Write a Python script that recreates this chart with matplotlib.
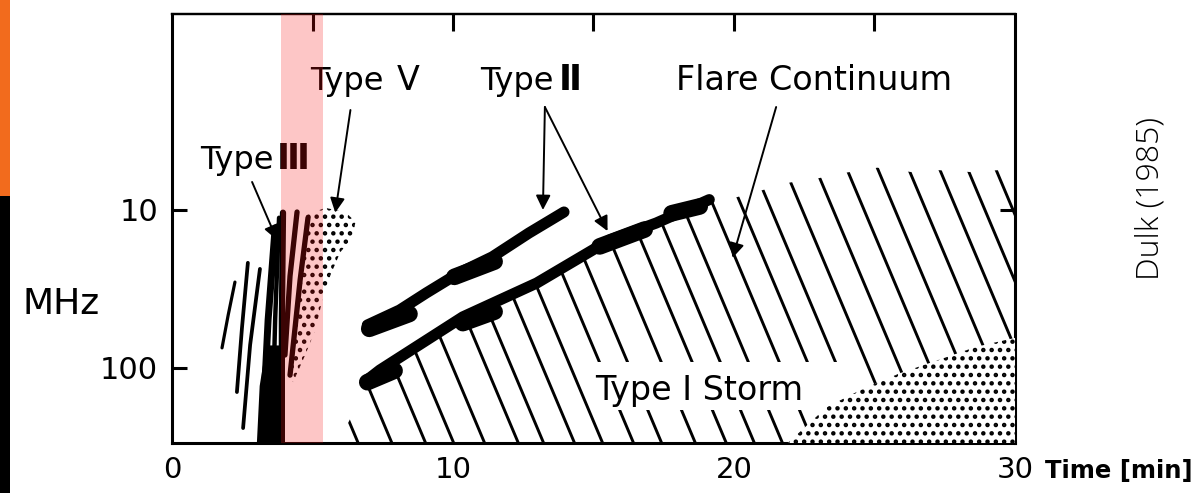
import numpy as np
import matplotlib
matplotlib.use("Agg")
import matplotlib.pyplot as plt
from matplotlib.patches import Polygon, Rectangle
from matplotlib.ticker import NullLocator, FixedLocator

plt.rcParams['font.family'] = ['DejaVu Sans']
plt.rcParams['hatch.linewidth'] = 2.0

# ---------------- data (time in min, frequency in MHz) ----------------
x_ticks = [0, 10, 20, 30]
x_ticklabels = ['0', '10', '20', '30']
top_ticks = [5, 10, 15, 20, 25]
y_ticks = [10, 100]
y_ticklabels = ['10', '100']

# Type III bursts: top, middle and bottom point of each drifting burst
t3_t_top = [2.24, 2.70, 3.13, 3.67, 3.81, 3.95, 4.45, 4.84]
t3_f_top = [28.6, 21.6, 23.6, 13.0, 11.2, 10.4, 10.3, 11.2]
t3_t_mid = [2.00, 2.49, 2.78, 3.42, 3.67, 3.91, 4.20, 4.56]
t3_f_mid = [46.2, 55.8, 71.5, 49.7, 49.7, 49.7, 26.2, 27.7]
t3_t_bot = [1.78, 2.31, 2.53, 3.20, 3.56, 3.91, 4.02, 4.20]
t3_f_bot = [74.6, 142, 240, 300, 300, 300, 82.8, 111]
t3_block_t = [3.35, 3.88, 3.88, 3.02, 3.12]
t3_block_f = [72, 72, 300, 300, 130]

# Type V stippled region
t5_t = [4.74, 5.46, 6.17, 6.53, 6.42, 5.99, 5.64, 5.35, 5.10, 4.74, 4.31, 4.14, 4.39, 4.56, 4.71]
t5_f = [10.8, 9.7, 10.3, 11.9, 15.0, 18.5, 25.8, 37.2, 57.4, 82.8, 123, 106, 57.4, 32, 17.9]

# Type II lanes (upper = harmonic lane, lower = fundamental lane)
t2u_t = [6.95, 8.10, 9.05, 10.22, 11.40, 12.70, 13.95]
t2u_f = [53.5, 43.0, 33.5, 25.0, 19.8, 14.0, 10.3]
t2l_t = [6.92, 7.40, 10.35, 12.98, 15.57, 17.23, 19.12]
t2l_f = [120, 103, 47.5, 29.0, 15.5, 12.1, 8.6]
# thicker clumps along the lanes
blob_t0 = [7.02, 10.05, 6.95, 10.35, 15.22, 17.78]
blob_f0 = [56.5, 26.5, 123, 52.0, 17.0, 10.5]
blob_t1 = [8.45, 11.48, 7.92, 11.48, 16.82, 18.78]
blob_f1 = [45.5, 21.2, 104, 44.0, 13.3, 9.5]

# Flare continuum region (outline, closed along the bottom)
cont_t = [5.9, 6.4, 6.95, 7.35, 10.35, 12.95, 15.55, 17.25, 19.12, 20.1, 21.0, 22.0,
          23.0, 24.0, 25.1, 26.3, 27.3, 28.4, 29.4, 30.0, 30.0]
cont_f = [300, 200, 130, 106, 49, 30, 16, 12.5, 8.9, 8.3, 7.5, 6.7,
          6.3, 5.8, 5.4, 5.75, 5.6, 5.75, 5.6, 5.6, 300]
# hatch lines: time at which each line crosses 100 MHz
hatch_t100 = [5.5, 6.7, 7.9, 8.9, 10.0, 11.2, 12.1, 13.2, 14.2, 15.3, 16.3, 17.5, 18.6,
              19.6, 20.6, 21.7, 22.7, 23.7, 24.8, 25.9, 27.0, 28.1, 29.2, 30.3, 31.3, 32.3]
hatch_slope = 2.37   # min per decade of frequency

# Type I storm stippled region
storm_t = [21.9, 23.3, 24.5, 25.9, 27.6, 28.6, 30.0, 30.0]
storm_f = [300, 177, 138, 108, 85, 73.6, 64.5, 300]

# pink highlighted interval
band_t = [3.88, 5.37]

# ---------------- figure ----------------
fig = plt.figure(figsize=(11.98, 4.93), dpi=100)
ax = fig.add_axes([172/1198, 50/493, 843/1198, 429/493])
ax.set_yscale('log')
ax.set_xlim(0, 30)
ax.set_ylim(298.4, 0.575)

K = 'black'
# Type III bursts
t3_w = [2.3, 2.7, 2.7, 5.0, 3.2, 4.5, 3.8, 3.8]
for i in range(len(t3_t_top)):
    ax.plot([t3_t_top[i], t3_t_mid[i], t3_t_bot[i]],
            [t3_f_top[i], t3_f_mid[i], t3_f_bot[i]],
            color=K, lw=t3_w[i], solid_capstyle='round', solid_joinstyle='round', zorder=5)
ax.add_patch(Polygon(np.column_stack([t3_block_t, t3_block_f]), closed=True,
                     facecolor=K, edgecolor='none', zorder=5))

# Type V stipple
ax.add_patch(Polygon(np.column_stack([t5_t, t5_f]), closed=True, facecolor='none',
                     edgecolor=K, lw=0, hatch='..', zorder=4))

# Flare continuum hatch lines
cont_poly = Polygon(np.column_stack([cont_t, cont_f]), closed=True,
                    transform=ax.transData, facecolor='none', edgecolor='none')
ax.add_patch(cont_poly)
lf = np.log10(np.array([2.0, 330.0]))
for t100 in hatch_t100:
    tt = t100 + hatch_slope * (lf - 2)
    ln, = ax.plot(tt, 10**lf, color=K, lw=2.1, solid_capstyle='butt', zorder=2)
    ln.set_clip_path(cont_poly)

# gap behind the Type I Storm label
ax.fill_between([15.1, 24.6], 91, 184, color='white', lw=0, zorder=3)

# Type I storm stipple
ax.add_patch(Polygon(np.column_stack([storm_t, storm_f]), closed=True,
                     facecolor='white', edgecolor=K, lw=0, hatch='..', zorder=4))

# Type II lanes
ax.plot(t2u_t, t2u_f, color=K, lw=8, solid_capstyle='round', zorder=6)
ax.plot(t2l_t, t2l_f, color=K, lw=8, solid_capstyle='round', zorder=6)
for a, b, c, d in zip(blob_t0, blob_f0, blob_t1, blob_f1):
    ax.plot([a, c], [b, d], color=K, lw=12, solid_capstyle='round', zorder=6)

# arrows
ap = dict(arrowstyle='-|>', color=K, lw=1.4, mutation_scale=22, shrinkA=0, shrinkB=0)
ax.annotate('', xy=(3.74, 15.5), xytext=(2.85, 6.65), arrowprops=ap, zorder=7)
ax.annotate('', xy=(5.81, 10.4), xytext=(6.35, 2.33), arrowprops=ap, zorder=7)
ax.annotate('', xy=(13.2, 10.0), xytext=(13.27, 2.23), arrowprops=ap, zorder=7)
ax.annotate('', xy=(15.5, 13.6), xytext=(13.27, 2.23), arrowprops=ap, zorder=7)
ax.annotate('', xy=(19.95, 20.1), xytext=(21.5, 2.23), arrowprops=ap, zorder=7)

# labels (word and Roman numeral)
lab = dict(ha='center', va='baseline', color=K, zorder=8)
ax.text(2.31, 5.5, 'Type', fontsize=23, **lab)
ax.text(4.33, 5.5, '\u2162', fontsize=25, fontweight='bold', **lab)
ax.text(6.23, 1.74, 'Type', fontsize=23, **lab)
ax.text(8.40, 1.74, '\u2164', fontsize=24, **lab)
ax.text(12.28, 1.74, 'Type', fontsize=23, **lab)
ax.text(14.16, 1.74, '\u2161', fontsize=25, fontweight='bold', **lab)
ax.text(22.86, 1.74, 'Flare Continuum', fontsize=24, **lab)
ax.text(18.75, 160, 'Type \u2160 Storm', fontsize=24, **lab)

# pink highlight band on top of everything
ax.axvspan(band_t[0], band_t[1], color=(0.97, 0.08, 0.08), alpha=0.24, lw=0, zorder=20)

# axes styling
for s in ['left', 'bottom', 'right']:
    ax.spines[s].set_linewidth(2.2)
ax.spines['top'].set_linewidth(1.6)
ax.yaxis.set_major_locator(FixedLocator(y_ticks))
ax.yaxis.set_minor_locator(NullLocator())
ax.set_yticklabels(y_ticklabels)
ax.set_xticks(x_ticks)
ax.set_xticklabels(x_ticklabels)
ax.tick_params(axis='y', which='major', direction='in', length=11, width=2.2,
               labelsize=22, pad=10, right=True)
ax.tick_params(axis='y', which='minor', length=0)
ax.tick_params(axis='x', length=0, labelsize=21, pad=9)
sec = ax.secondary_xaxis('top')
sec.set_xticks(top_ticks)
sec.tick_params(direction='in', length=12, width=2.2, labeltop=False)
sec.spines['top'].set_linewidth(1.6)

fig.text(61/1198, 1 - 304/493, 'MHz', fontsize=26, ha='center', va='center')
fig.text(1119/1198, 1 - 471/493, 'Time [min]', fontsize=17.5, fontweight='bold',
         ha='center', va='center')
fig.text(1150/1198, 1 - 199/493, 'Dulk (1985)', rotation=90, fontsize=23,
         family=['Open Sans', 'DejaVu Sans'], fontweight='light', color='black',
         ha='center', va='center')

# side colour bar
fig.add_artist(Rectangle((0, 1 - 196/493), 10/1198, 196/493, transform=fig.transFigure,
                         facecolor='#F26B1D', edgecolor='none'))
fig.add_artist(Rectangle((0, 0), 10/1198, 1 - 196/493, transform=fig.transFigure,
                         facecolor='black', edgecolor='none'))

fig.savefig('out.png', dpi=100)
